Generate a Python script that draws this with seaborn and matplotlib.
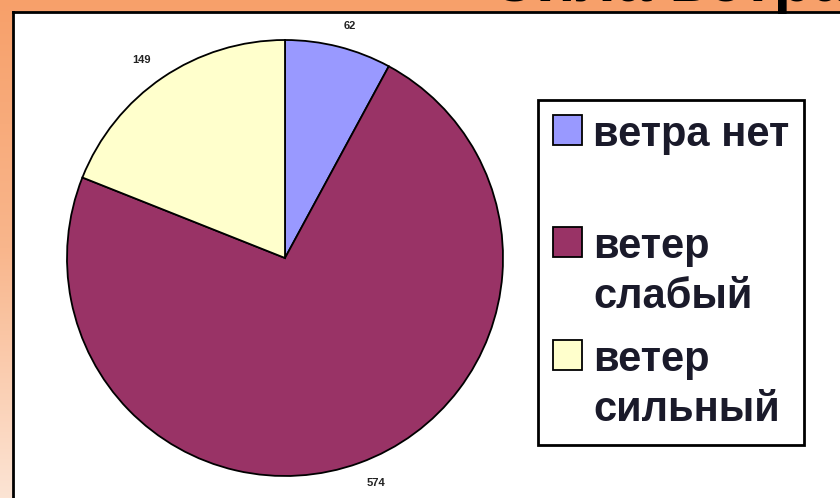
import matplotlib
matplotlib.use('Agg')
import matplotlib.pyplot as plt
import seaborn as sns
import numpy as np
from matplotlib.colors import LinearSegmentedColormap

categories = ['ветра нет', 'ветер\nслабый', 'ветер\nсильный']
values = [62, 574, 149]
colors = ['#9999FF', '#993366', '#FFFFCC']
title = 'Сила ветра'

sns.set_style('white')
plt.rcParams['font.family'] = ['Liberation Sans', 'DejaVu Sans']

W, H = 840, 498
fig = plt.figure(figsize=(W / 100, H / 100), dpi=100)

# orange slide background, lighter towards the bottom
bg = fig.add_axes([0, 0, 1, 1])
cmap = LinearSegmentedColormap.from_list('bg', ['#F7A06A', '#F9B68C', '#FCE4D4'])
grad = np.linspace(0, 1, 256).reshape(-1, 1)
bg.imshow(grad, aspect='auto', cmap=cmap, extent=[0, 1, 0, 1], origin='upper')
bg.axis('off')

# white chart area with black frame
panel = fig.add_axes([13 / W, -0.1, 1.0, 1 - 12 / H + 0.1])
panel.set_facecolor('white')
panel.set_xticks([])
panel.set_yticks([])
for s in panel.spines.values():
    s.set_color('black')
    s.set_linewidth(2)

# pie
cx, cy, r = 285, 258, 218
ax = fig.add_axes([(cx - r) / W, (H - cy - r) / H, 2 * r / W, 2 * r / H])
wedges, texts = ax.pie(values, labels=[str(v) for v in values], colors=colors,
                       startangle=90, counterclock=False, labeldistance=1.1,
                       wedgeprops=dict(edgecolor='black', linewidth=1.3),
                       textprops=dict(fontsize=8, fontweight='bold', color='#222222'))
ax.set_xlim(-1, 1)
ax.set_ylim(-1, 1)
ax.set_aspect('equal')
for t in texts:
    t.set_clip_on(False)

leg = fig.legend(wedges, [categories[0] + '\n'] + categories[1:],
                 loc='upper left', bbox_to_anchor=(538 / W, 1 - 100 / H),
                 bbox_transform=fig.transFigure, frameon=True,
                 fancybox=False, edgecolor='black', framealpha=1,
                 handlelength=0.7, handleheight=0.72, handletextpad=0.26,
                 borderpad=0.36, labelspacing=0.54, borderaxespad=0,
                 prop=dict(weight='bold', size=30))
leg.get_frame().set_linewidth(2)
for t in leg.get_texts():
    t.set_linespacing(1.32)
    t.set_color('#1a1a2a')
for item in leg._legend_handle_box.get_children()[0].get_children():
    item.align = 'top'

fig.text(490 / W, 1 - 1 / H, title, fontsize=46, fontweight='bold',
         va='baseline', ha='left', color='black', zorder=10)

fig.savefig('out.png', dpi=100)
